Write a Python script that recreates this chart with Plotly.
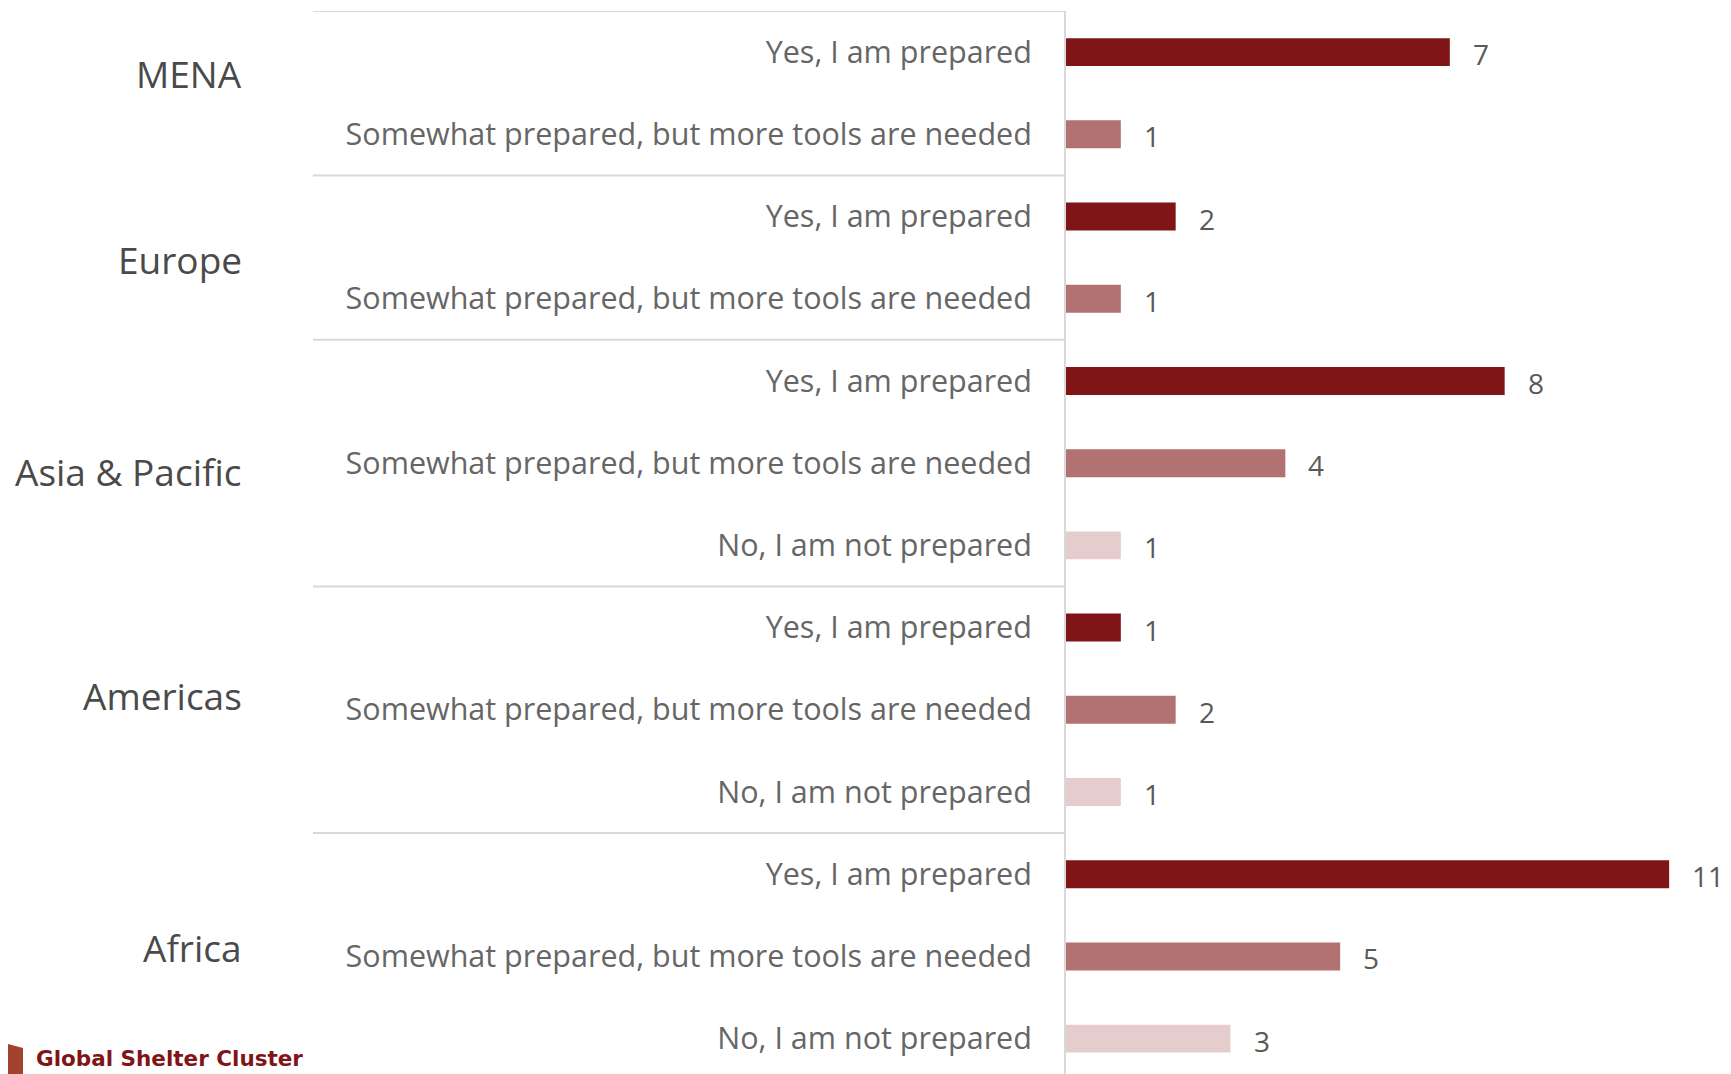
import plotly.graph_objects as go

regions = ["MENA", "Europe", "Asia & Pacific", "Americas", "Africa"]
responses = ["Yes, I am prepared", "Somewhat prepared, but more tools are needed", "No, I am not prepared"]
yes_vals = [7, 2, 8, 1, 11]
somewhat_vals = [1, 1, 4, 2, 5]
no_vals = [None, None, 1, 1, 3]
colors = ["#801517", "#B27272", "#E6CDCD"]

series = [yes_vals, somewhat_vals, no_vals]

OFF = 8  # page body margin
W, H = 1731 - OFF, 1074 - OFF
L, T = 1066 - OFF, 11 - OFF
R = 7
plot_w = W - L - R
plot_h = H - T

rows = []
for gi, reg in enumerate(regions):
    for ri in range(3):
        v = series[ri][gi]
        if v is not None:
            rows.append((gi, ri, v))

fig = go.Figure()
for ri in range(3):
    ys = [i for i, r in enumerate(rows) if r[1] == ri]
    xs = [rows[i][2] for i in ys]
    fig.add_trace(go.Bar(x=xs, y=ys, orientation="h", width=0.34,
                         marker=dict(color=colors[ri], line=dict(width=0)),
                         showlegend=False, hoverinfo="x"))
    for x, y in zip(xs, ys):
        fig.add_annotation(x=x, y=y, text=str(x), showarrow=False, xanchor="left",
                           xshift=21, yshift=-2,
                           font=dict(family="Open Sans", size=28, color="#595959"))

tickvals = list(range(len(rows)))
ticktext = [responses[r[1]] for r in rows]

group_rows = {}
for i, r in enumerate(rows):
    group_rows.setdefault(r[0], []).append(i)
label_offsets = [-0.24, 0.02, 0.1, -0.18, -0.11]
for gi, reg in enumerate(regions):
    idx = group_rows[gi]
    yc = (idx[0] + idx[-1]) / 2 + label_offsets[gi]
    fig.add_annotation(x=0, xref="paper", y=yc, yref="y", text=reg, showarrow=False,
                       xanchor="right", xshift=-(1066 - 244),
                       font=dict(family="Open Sans", size=37, color="#4a4a4a"))

x0_paper = (313 - 1066) / plot_w
for gi in range(len(regions)):
    yb = group_rows[gi][0] - 0.5
    fig.add_shape(type="line", xref="paper", yref="y", x0=x0_paper, x1=0, y0=yb, y1=yb,
                  line=dict(color="#D9D9D9", width=2))

def px(xpage):
    return (xpage - 1066) / plot_w

def py(ypage):
    return (1074 - ypage) / plot_h

fig.add_shape(type="path", xref="paper", yref="paper",
              path="M %f %f L %f %f L %f %f L %f %f Z" % (px(8), py(1074), px(8), py(1044),
                                                       px(23), py(1048), px(23), py(1074)),
              fillcolor="#A3432F", line=dict(width=0))
fig.add_annotation(x=px(34), xref="paper", y=py(1058), yref="paper", text="<b>Global Shelter Cluster</b>",
                   showarrow=False, xanchor="left", yanchor="middle",
                   font=dict(family="DejaVu Sans", size=21.5, color="#7F1518"))

fig.update_layout(
    width=W, height=H,
    margin=dict(l=L, r=R, t=T, b=0),
    plot_bgcolor="white", paper_bgcolor="white",
    barmode="overlay",
    xaxis=dict(range=[0, 12], visible=False, fixedrange=True),
    yaxis=dict(range=[12.43, -0.5], tickvals=tickvals, ticktext=ticktext,
               showgrid=False, zeroline=False, showline=True, linecolor="#D9D9D9", linewidth=2,
               ticks="", ticklabelstandoff=26,
               tickfont=dict(family="Open Sans", size=30.5, color="#666666")),
)
fig.write_html("out.html")
